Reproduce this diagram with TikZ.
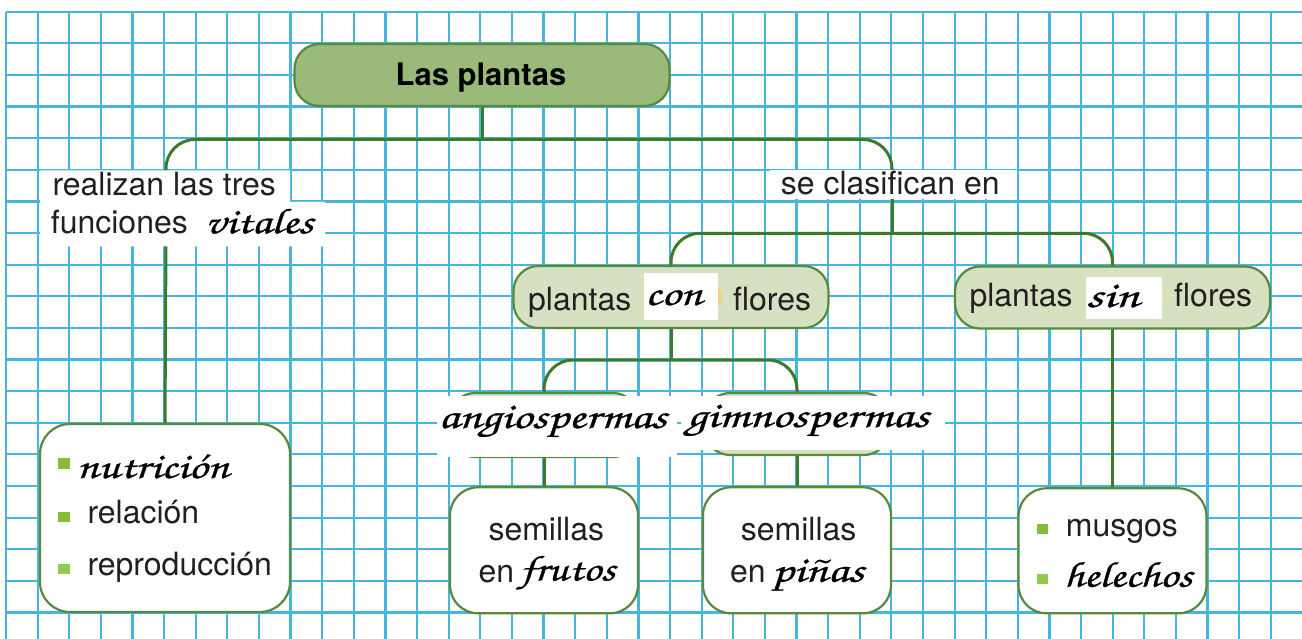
\documentclass[tikz,border=0pt]{standalone}
\usepackage{fontspec}
\setmainfont{TeX Gyre Heros}
\newfontfamily\cursive[FakeBold=0.7]{texgyrechorus-mediumitalic.otf}
\usepackage{graphicx}
\definecolor{gridc}{RGB}{72,182,218}
\definecolor{conc}{RGB}{62,122,45}
\definecolor{borderc}{RGB}{88,138,62}
\definecolor{titlefill}{RGB}{155,185,120}
\definecolor{lightfill}{RGB}{214,225,193}
\definecolor{bulc}{RGB}{128,192,50}
\definecolor{txtc}{RGB}{35,31,32}
\definecolor{orangec}{RGB}{250,205,130}
\newlength\curlen
\newcommand{\cur}[2]{\settowidth{\curlen}{\cursive #2}\pgfmathsetmacro\cursx{#1/\curlen}\scalebox{\cursx}[1]{\cursive #2}}
\tikzset{
  gridl/.style={draw=gridc, line width=2.2pt},
  conn/.style={draw=conc, line width=3pt},
  rconn/.style={conn, rounded corners=29pt},
  boxpos/.style={inner sep=0pt, draw=none, fill=none},
  box/.style={draw=borderc, line width=2.2pt, rounded corners=#1, inner sep=0pt},
  txt/.style={font=\fontsize{32}{36}\selectfont, text=txtc, inner sep=0pt, anchor=base west},
  curtxt/.style={font=\fontsize{36}{40}\selectfont, text=black, inner sep=0pt, anchor=base west},
  patch/.style={fill=white, draw=none},
  bul/.style={fill=bulc, draw=none, minimum width=11.5pt, minimum height=10.5pt, inner sep=0pt}
}
\begin{document}
\begin{tikzpicture}[x=1pt,y=-1pt]
\useasboundingbox (0,0) rectangle (1302,639);
\fill[white] (0,0) rectangle (1302,639);
% grid
\foreach \i in {0,...,40} \draw[gridl] ({6+31.62*\i},11.7) -- ({6+31.62*\i},639);
\foreach \j in {0,...,19} \draw[gridl] (6,{11.7+31.62*\j}) -- (1302,{11.7+31.62*\j});

% box positions
\node[boxpos, minimum width=375, minimum height=62] (title) at (482,75) {};
\node[boxpos, minimum width=315, minimum height=62] (conF) at (671,297) {};
\node[boxpos, minimum width=315, minimum height=62] (sinF) at (1112.5,297.5) {};
\node[boxpos, minimum width=188, minimum height=64] (angio) at (544,425) {};
\node[boxpos, minimum width=184, minimum height=62] (gimno) at (797,424) {};
\node[boxpos, minimum width=250, minimum height=188] (boxL) at (165,518) {};
\node[boxpos, minimum width=188, minimum height=126] (frutos) at (544,550.3) {};
\node[boxpos, minimum width=188, minimum height=126] (pinas) at (797,550.3) {};
\node[boxpos, minimum width=188, minimum height=125] (musgos) at (1112.5,550.8) {};

% connector points
\coordinate (jt) at (482,139.5);
\coordinate (lblTop) at (166,172);
\coordinate (lblBot) at (166,240);
\coordinate (seTop) at (892,172);
\coordinate (seBot) at (892,195);
\coordinate (jc) at (892,233.3);
\coordinate (jf) at (671,360);

% connectors
\draw[conn] (title.south) -- (jt);
\draw[rconn] (jt) -| (lblTop);
\draw[rconn] (jt) -| (seTop);
\draw[conn] (lblBot) -- (boxL.north);
\draw[conn] (seBot) -- (jc);
\draw[rconn] (jc) -| (conF.north);
\draw[rconn] (jc) -| (sinF.north);
\draw[conn] (conF.south) -- (jf);
\draw[rconn] (jf) -| (angio.north);
\draw[rconn] (jf) -| (gimno.north);
\draw[conn] (angio.south) -- (frutos.north);
\draw[conn] (gimno.south) -- (pinas.north);
\draw[conn] (sinF.south) -- (musgos.north);

% visible boxes on top of connectors
\node[box=25, fill=titlefill, minimum width=375, minimum height=62] at (title) {};
\node[box=25, fill=lightfill, minimum width=315, minimum height=62] at (conF) {};
\node[box=25, fill=lightfill, minimum width=315, minimum height=62] at (sinF) {};
\node[box=25, fill=lightfill, minimum width=188, minimum height=64] at (angio) {};
\node[box=25, fill=lightfill, minimum width=184, minimum height=62] at (gimno) {};
\node[box=30, fill=white, minimum width=250, minimum height=188] at (boxL) {};
\node[box=28, fill=white, minimum width=188, minimum height=126] at (frutos) {};
\node[box=28, fill=white, minimum width=188, minimum height=126] at (pinas) {};
\node[box=28, fill=white, minimum width=188, minimum height=125] at (musgos) {};

% orange remnants
\fill[orangec] (717.5,297.5) ellipse [x radius=4.5, y radius=9];
\fill[orangec!60] (1161.7,296.5) ellipse [x radius=2, y radius=6];

% white patches
\fill[patch] (40,170.5) -- (290,170.5) -- (290,202) -- (325,202) -- (325,246.5) -- (40,246.5) -- cycle;
\fill[patch] (770,170.5) rectangle (1017,199);
\fill[patch] (437,395.5) rectangle (677,457);
\fill[patch] (681,395.5) rectangle (945,449.5);
\fill[patch] (643.5,273) rectangle (717.5,319.5);
\fill[patch] (1085.7,276.7) rectangle (1161.7,319.3);

% texts
\node[txt, font=\fontsize{31}{36}\selectfont\bfseries, text=black, anchor=base] (ttitle) at (481,86) {Las plantas};
\node[txt] (t1) at (52.3,195.7) {realizan las tres};
\node[txt] (t2) at (50.7,233.3) {funciones};
\node[curtxt] (t2c) at (205,233.3) {\cur{108}{vitales}};
\node[txt] (t3) at (780.7,195) {se clasifican en};
\node[txt] (c1) at (528,311) {plantas};
\node[curtxt] (c2) at (645,305) {\cur{57}{con}};
\node[txt] (c3) at (733,311) {flores};
\node[txt] (s1) at (969.3,307) {plantas};
\node[curtxt] (s2) at (1086,307) {\cur{53}{sin}};
\node[txt] (s3) at (1174,307) {flores};
\node[curtxt] (a1) at (438.5,428) {\cur{228}{angiospermas}};
\node[curtxt] (g1) at (686.7,427) {\cur{242}{gimnospermas}};
\node[curtxt] (l1) at (76.7,478) {\cur{152}{nutrición}};
\node[txt] (l2) at (87.3,523.3) {relación};
\node[txt] (l3) at (87.3,575) {reproducción};
\node[txt] (f1) at (488.3,540.5) {semillas};
\node[txt] (f2) at (478.3,582.7) {en};
\node[curtxt] (f3) at (520,580.5) {\cur{95}{frutos}};
\node[txt] (p1) at (740.7,540.5) {semillas};
\node[txt] (p2) at (730,582.7) {en};
\node[curtxt] (p3) at (771.7,581.7) {\cur{92}{piñas}};
\node[txt] (m1) at (1065.7,536.7) {musgos};
\node[curtxt] (m2) at (1064,586.7) {\cur{128}{helechos}};

% bullets
\node[bul] (b1) at (64.2,463.3) {};
\node[bul] (b2) at (64.2,517.2) {};
\node[bul, fill=bulc!85!white] (b3) at (64.2,569.2) {};
\node[bul] (b4) at (1042.5,529.2) {};
\node[bul, fill=bulc!85!white] (b5) at (1042.5,579.2) {};
\end{tikzpicture}
\end{document}
